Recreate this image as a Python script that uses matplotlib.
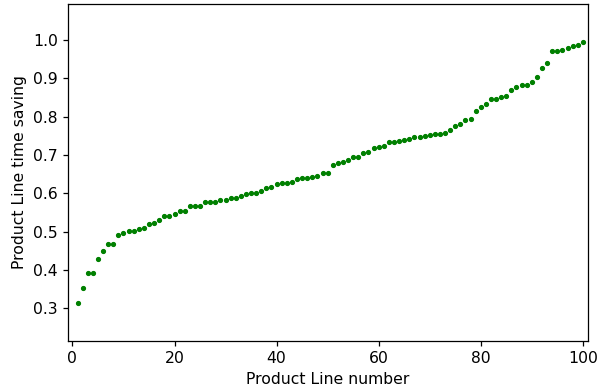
import matplotlib
matplotlib.use('Agg')
import matplotlib.pyplot as plt

# product line numbers 1..100
product_line = list(range(1, 101))

# time saving per product line
time_saving = [
    0.314, 0.354, 0.393, 0.393, 0.430, 0.450, 0.468, 0.468, 0.491, 0.497,
    0.501, 0.503, 0.507, 0.510, 0.519, 0.522, 0.531, 0.542, 0.542, 0.546,
    0.554, 0.554, 0.568, 0.568, 0.568, 0.577, 0.577, 0.577, 0.582, 0.583,
    0.589, 0.589, 0.594, 0.597, 0.600, 0.600, 0.606, 0.613, 0.616, 0.625,
    0.627, 0.627, 0.629, 0.638, 0.640, 0.641, 0.642, 0.646, 0.652, 0.653,
    0.674, 0.679, 0.681, 0.688, 0.694, 0.694, 0.704, 0.709, 0.718, 0.722,
    0.724, 0.733, 0.733, 0.736, 0.740, 0.741, 0.747, 0.748, 0.750, 0.753,
    0.754, 0.755, 0.758, 0.765, 0.776, 0.780, 0.792, 0.795, 0.815, 0.824,
    0.833, 0.847, 0.847, 0.852, 0.855, 0.870, 0.878, 0.882, 0.882, 0.890,
    0.904, 0.926, 0.940, 0.970, 0.972, 0.974, 0.979, 0.983, 0.988, 0.994,
]

# reference looks like default style scaled up a bit
k = 1.125
plt.rcParams['font.size'] = 10 * k
plt.rcParams['axes.linewidth'] = 0.8 * k
plt.rcParams['xtick.major.size'] = 3.5 * k
plt.rcParams['ytick.major.size'] = 3.5 * k
plt.rcParams['xtick.major.width'] = 0.8 * k
plt.rcParams['ytick.major.width'] = 0.8 * k

fig = plt.figure(figsize=(6.08, 3.91), dpi=100)
ax = fig.add_axes([0.112, 0.128, 0.855, 0.862])

ax.plot(product_line, time_saving, 'g.', markersize=5.5)

ax.set_xlim(-0.85, 101)
ax.set_ylim(0.215, 1.094)
ax.set_xticks([0, 20, 40, 60, 80, 100])
ax.set_yticks([0.3, 0.4, 0.5, 0.6, 0.7, 0.8, 0.9, 1.0])

ax.set_xlabel('Product Line number')
ax.set_ylabel('Product Line time saving')

fig.savefig('out.png', dpi=100)
